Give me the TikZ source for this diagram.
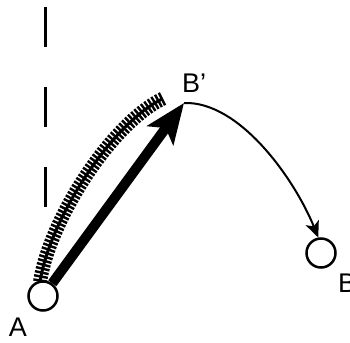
\documentclass[tikz,border=0pt]{standalone}
\usepackage{fontspec}
\setmainfont{Liberation Sans}
\usetikzlibrary{arrows.meta,decorations.pathreplacing}
\begin{document}
\begin{tikzpicture}[x=1pt,y=-1pt,
  ring/.style={circle,draw,line width=2.5pt,minimum size=29pt,inner sep=0pt},
  lbl/.style={font=\fontsize{27}{27}\selectfont,inner sep=0pt},
  guide/.style={line width=3pt,dash pattern=on 40pt off 40pt},
  bigarrow/.style={line width=10pt,-{Stealth[length=40pt,width=32pt,inset=9pt]}},
  track/.style={line width=3pt},
  ticksdeco/.style={line width=2.4pt,decorate,decoration={ticks,segment length=4pt,amplitude=7pt}},
  thinarrow/.style={line width=2pt,-{Stealth[length=16pt,width=14pt,inset=4pt]}}]
\useasboundingbox (0,0) rectangle (350,342);
\node[ring] (A) at (43,296) {};
\node[ring] (B) at (321,253) {};
\coordinate (T) at (184,103);
\coordinate (H) at (162,99);
\coordinate (G1) at (45,7);
\coordinate (G2) at (45,210);
\node[lbl] (la) at (18,327) {A};
\node[lbl,anchor=west] (lb) at (338,283) {B};
\node[lbl,anchor=west] (lbp) at (182,83) {B\char39};
\draw[guide] (G1) -- (G2);
\draw[track] (A.100) .. controls (50,220) and (110,125) .. (H);
\draw[ticksdeco] (A.100) .. controls (50,220) and (110,125) .. (H);
\draw[bigarrow] (A) -- (T);
\draw[thinarrow] (T) .. controls (240,101) and (295,180) .. (B.100);
\end{tikzpicture}
\end{document}
